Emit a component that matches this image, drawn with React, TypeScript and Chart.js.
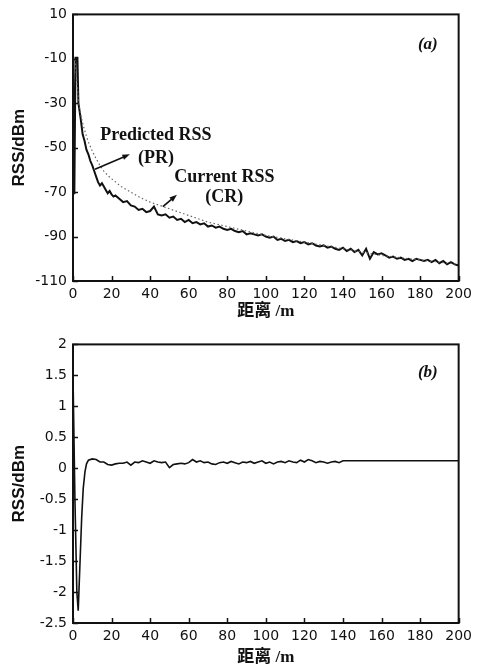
import React, { useEffect, useRef } from "react";
import { Chart, registerables } from "chart.js";

Chart.register(...registerables);

// ---------- data (a) ----------
const CR_DIST = [
  0, 0.7, 1.3, 2.3, 2.8, 4, 5, 6, 7, 8, 9, 10, 11, 12, 13, 14, 15, 16, 17, 18, 19, 20, 21, 22,
  24, 26, 28, 30, 32, 34, 36, 38, 40, 42, 44, 46, 48, 50, 52, 54, 56, 58, 60, 62, 64, 66, 68, 70,
  72, 74, 76, 78, 80, 82, 84, 86, 88, 90, 92, 94, 96, 98, 100, 102, 104, 106, 108, 110, 112, 114,
  116, 118, 120, 122, 124, 126, 128, 130, 132, 134, 136, 138, 140, 142, 144, 146, 148, 150, 152,
  154, 156, 158, 160, 162, 164, 166, 168, 170, 172, 174, 176, 178, 180, 182, 184, 186, 188, 190,
  192, 194, 196, 198, 200,
];
const CR_RSS = [
  -12, -71, -9.5, -9.5, -30, -37, -44, -47, -51, -53, -56, -58, -60.5, -63, -65.5, -67, -66, -67.5,
  -69, -70.5, -69.5, -71, -72, -71.5,
  -73, -74.5, -74, -76, -76.5, -78, -77.5, -79, -78.5, -76.5, -80, -80.5, -80, -81.5, -81, -82.5,
  -82, -83.5, -82.5, -84, -83.5, -84.5, -84, -85.5, -85, -86, -85.5, -86.5, -87, -86.5, -87.5, -88,
  -87.5, -89, -88.5, -89, -89.5, -89, -90, -90.5, -90, -91.5, -91, -92, -91.5, -92.5, -92, -93,
  -92.5, -93.5, -93, -94, -94.5, -94, -95, -94.5, -95.5, -96, -95, -96.5, -95.5, -97, -96, -98.5,
  -95.5, -100, -97, -98, -97.5, -98.5, -99.5, -99, -100, -99.5, -100.5, -100, -101, -100, -100.5,
  -101, -100.5, -101.5, -100.5, -102, -101, -102.5, -101.5, -102.5, -103,
];
const PR_DIST = [
  0, 1, 2, 3, 4, 5, 6, 7, 8, 9, 10, 12, 14, 16, 18, 20, 25, 30, 35, 40, 45, 50, 55, 60, 65, 70, 75,
  80, 85, 90, 95, 100, 110, 120, 130, 140, 150, 160, 170, 180, 190, 200,
];
const PR_RSS = [
  -10, -9.5, -20, -30, -35, -39, -42, -45, -47.5, -49.5, -51.5, -55, -58, -60.5, -62.5, -64, -67.5,
  -70, -72.5, -74.5, -76, -77.5, -79, -80.5, -82, -83.5, -84.5, -85.5, -86.5, -87.5, -88.5, -89.5,
  -91, -92.5, -94, -95.5, -97, -98.5, -99.5, -100.5, -101.5, -102.5,
];

// ---------- data (b) ----------
const DIFF_DIST = [
  0, 1, 2, 2.7, 3.6, 4.5, 5.3, 6.2, 7, 8, 10, 12, 14, 16, 18, 20, 22, 24, 26, 28, 30, 32, 34, 36,
  38, 40, 42, 44, 46, 48, 50, 52, 54, 56, 58, 60, 62, 64, 66, 68, 70, 72, 74, 76, 78, 80, 82, 84,
  86, 88, 90, 92, 94, 96, 98, 100, 102, 104, 106, 108, 110, 112, 114, 116, 118, 120, 122, 124, 126,
  128, 130, 132, 134, 136, 138, 140, 142, 200,
];
const DIFF_RSS = [
  1.5, -0.5, -2.0, -2.3, -1.55, -0.8, -0.33, -0.06, 0.07, 0.13, 0.15, 0.14, 0.1, 0.1, 0.06, 0.05,
  0.07, 0.08, 0.08, 0.1, 0.05, 0.1, 0.09, 0.12, 0.1, 0.08, 0.12, 0.1, 0.09, 0.1, 0.01, 0.06, 0.07,
  0.08, 0.07, 0.09, 0.14, 0.1, 0.12, 0.09, 0.1, 0.07, 0.06, 0.09, 0.1, 0.08, 0.11, 0.09, 0.07, 0.1,
  0.09, 0.11, 0.08, 0.1, 0.12, 0.08, 0.1, 0.07, 0.1, 0.11, 0.09, 0.12, 0.1, 0.09, 0.13, 0.1, 0.14,
  0.12, 0.09, 0.11, 0.1, 0.08, 0.1, 0.11, 0.09, 0.12, 0.12, 0.12,
];

// ---------- ticks ----------
const X_TICKS = [0, 20, 40, 60, 80, 100, 120, 140, 160, 180, 200];
const Y_TICKS_A = [-110, -90, -70, -50, -30, -10, 10];
const Y_TICKS_B = [-2.5, -2, -1.5, -1, -0.5, 0, 0.5, 1, 1.5, 2];

const X_TITLE = "距离 /m";
const Y_TITLE = "RSS/dBm";

// annotations (data coordinates)
const NOTES_A = [
  { text: "Predicted RSS", x: 43, y: -44.3, font: "bold 18px 'Liberation Serif', serif" },
  { text: "(PR)", x: 43, y: -54.8, font: "bold 18px 'Liberation Serif', serif" },
  { text: "Current RSS", x: 78.5, y: -63.2, font: "bold 18px 'Liberation Serif', serif" },
  { text: "(CR)", x: 78.5, y: -72.5, font: "bold 18px 'Liberation Serif', serif" },
  { text: "(a)", x: 184, y: -3.7, font: "bold italic 17px 'Liberation Serif', serif" },
];
const ARROWS_A = [
  { x0: 11.4, y0: -59.7, x1: 29.5, y1: -53 },
  { x0: 46.6, y0: -76.5, x1: 53.9, y1: -71.2 },
];
const NOTES_B = [
  { text: "(b)", x: 184, y: 1.54, font: "bold italic 17px 'Liberation Serif', serif" },
];

const TICK_FONT = { family: "'DejaVu Sans', sans-serif", size: 14 };
const Y_TITLE_FONT = { family: "'Liberation Sans', Arial, sans-serif", size: 17, weight: "bold" as const };
const X_TITLE_FONT = { family: "'Liberation Serif', 'Noto Sans CJK SC', serif", size: 17, weight: "bold" as const };

function makeDecor(notes: any[], arrows: any[]) {
  return {
    id: "decor",
    afterDatasetsDraw(chart: any) {
      const { ctx, chartArea: a, scales } = chart;
      const sx = scales.x;
      const sy = scales.y;
      ctx.save();
      // inward ticks
      ctx.strokeStyle = "#111";
      ctx.lineWidth = 1.5;
      ctx.beginPath();
      sx.ticks.forEach((t: any) => {
        const px = Math.round(sx.getPixelForValue(t.value)) + 0.5;
        ctx.moveTo(px, a.bottom);
        ctx.lineTo(px, a.bottom - 5);
      });
      sy.ticks.forEach((t: any) => {
        const py = Math.round(sy.getPixelForValue(t.value)) + 0.5;
        ctx.moveTo(a.left, py);
        ctx.lineTo(a.left + 5, py);
      });
      ctx.stroke();
      // frame
      ctx.lineWidth = 2;
      ctx.strokeRect(a.left, a.top, a.right - a.left, a.bottom - a.top);
      // notes
      ctx.fillStyle = "#111";
      ctx.textAlign = "center";
      ctx.textBaseline = "middle";
      notes.forEach((n) => {
        ctx.font = n.font;
        ctx.fillText(n.text, sx.getPixelForValue(n.x), sy.getPixelForValue(n.y));
      });
      // arrows
      ctx.lineWidth = 1.6;
      arrows.forEach((ar) => {
        const x0 = sx.getPixelForValue(ar.x0);
        const y0 = sy.getPixelForValue(ar.y0);
        const x1 = sx.getPixelForValue(ar.x1);
        const y1 = sy.getPixelForValue(ar.y1);
        const ang = Math.atan2(y1 - y0, x1 - x0);
        const hl = 8;
        ctx.beginPath();
        ctx.moveTo(x0, y0);
        ctx.lineTo(x1 - Math.cos(ang) * hl * 0.6, y1 - Math.sin(ang) * hl * 0.6);
        ctx.stroke();
        ctx.beginPath();
        ctx.moveTo(x1, y1);
        ctx.lineTo(x1 - hl * Math.cos(ang - 0.35), y1 - hl * Math.sin(ang - 0.35));
        ctx.lineTo(x1 - hl * Math.cos(ang + 0.35), y1 - hl * Math.sin(ang + 0.35));
        ctx.closePath();
        ctx.fill();
      });
      ctx.restore();
    },
  };
}

function makeOptions(opts: {
  yMin: number;
  yMax: number;
  yTicks: number[];
  padTop: number;
  xHeight: number;
  xTitlePadBottom: number;
}): any {
  return {
    responsive: false,
    animation: false,
    devicePixelRatio: 1,
    layout: { padding: { left: 0, right: 18, top: opts.padTop, bottom: 0 } },
    plugins: { legend: { display: false }, tooltip: { enabled: false } },
    elements: { point: { radius: 0 }, line: { tension: 0 } },
    scales: {
      x: {
        type: "linear",
        min: 0,
        max: 200,
        grid: { display: false, drawTicks: false },
        border: { display: false },
        afterBuildTicks: (s: any) => {
          s.ticks = X_TICKS.map((v) => ({ value: v }));
        },
        afterFit: (s: any) => {
          s.height = opts.xHeight;
        },
        ticks: {
          font: TICK_FONT,
          color: "#111",
          padding: 5,
          maxRotation: 0,
          autoSkip: false,
          callback: (v: any) => String(v),
        },
        title: {
          display: true,
          text: X_TITLE,
          font: X_TITLE_FONT,
          color: "#111",
          padding: { top: 0, bottom: opts.xTitlePadBottom },
        },
      },
      y: {
        type: "linear",
        min: opts.yMin,
        max: opts.yMax,
        grid: { display: false, drawTicks: false },
        border: { display: false },
        afterBuildTicks: (s: any) => {
          s.ticks = opts.yTicks.map((v) => ({ value: v }));
        },
        afterFit: (s: any) => {
          s.width = 73;
        },
        ticks: {
          font: TICK_FONT,
          color: "#111",
          padding: 6,
          autoSkip: false,
          callback: (v: any) => String(v),
        },
        title: {
          display: true,
          text: Y_TITLE,
          font: Y_TITLE_FONT,
          color: "#111",
          padding: { top: 9, bottom: 0 },
        },
      },
    },
  };
}

function toPoints(xs: number[], ys: number[]) {
  return xs.map((x, i) => ({ x, y: ys[i] }));
}

export default function App() {
  const refA = useRef<HTMLCanvasElement>(null);
  const refB = useRef<HTMLCanvasElement>(null);

  useEffect(() => {
    const chartA = new Chart(refA.current as HTMLCanvasElement, {
      type: "line",
      data: {
        datasets: [
          {
            data: toPoints(PR_DIST, PR_RSS),
            borderColor: "#666",
            borderWidth: 1.2,
            borderDash: [1.5, 2.5],
            fill: false,
          },
          {
            data: toPoints(CR_DIST, CR_RSS),
            borderColor: "#111",
            borderWidth: 2,
            fill: false,
          },
        ],
      },
      options: makeOptions({ yMin: -110, yMax: 10, yTicks: Y_TICKS_A, padTop: 9, xHeight: 49, xTitlePadBottom: 8 }),
      plugins: [makeDecor(NOTES_A, ARROWS_A)],
    } as any);

    const chartB = new Chart(refB.current as HTMLCanvasElement, {
      type: "line",
      data: {
        datasets: [
          {
            data: toPoints(DIFF_DIST, DIFF_RSS),
            borderColor: "#111",
            borderWidth: 1.6,
            fill: false,
          },
        ],
      },
      options: makeOptions({ yMin: -2.5, yMax: 2, yTicks: Y_TICKS_B, padTop: 11, xHeight: 45, xTitlePadBottom: 0 }),
      plugins: [makeDecor(NOTES_B, [])],
    } as any);

    return () => {
      chartA.destroy();
      chartB.destroy();
    };
  }, []);

  return (
    <div style={{ position: "absolute", left: 0, top: 0, width: 477, height: 668, background: "#fff" }}>
      <canvas ref={refA} width={477} height={330} style={{ position: "absolute", left: 0, top: 0 }} />
      <canvas ref={refB} width={477} height={338} style={{ position: "absolute", left: 0, top: 330 }} />
    </div>
  );
}
